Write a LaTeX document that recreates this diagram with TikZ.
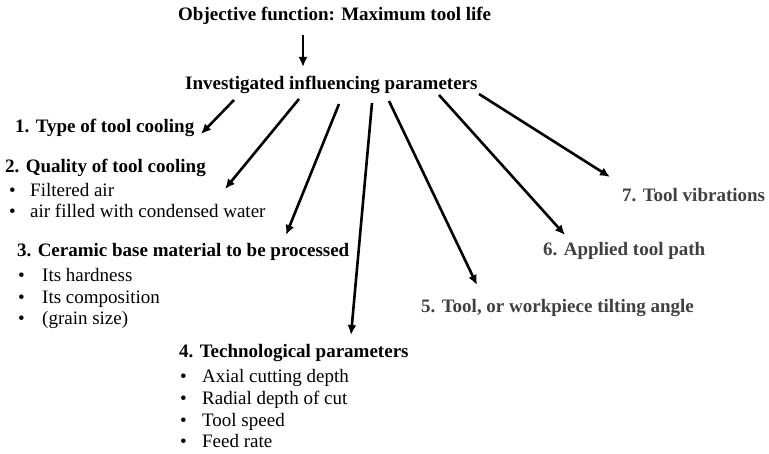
\documentclass[tikz,border=0pt]{standalone}
\usepackage{fontspec}
\setmainfont{Liberation Serif}
\usetikzlibrary{arrows.meta}
\definecolor{darkgrey}{RGB}{64,64,64}
\tikzset{
  head/.style={anchor=base west,inner sep=0pt,font=\bfseries},
  items/.style={anchor=base west,inner sep=0pt,align=left},
  arr/.style={line width=2.6pt,-{Latex[length=10pt,width=9pt]}},
}
\newcommand{\bul}[1]{\makebox[#1][l]{\textbullet}}
\begin{document}
\fontsize{19}{21.7}\selectfont
\begin{tikzpicture}[x=1pt,y=-1pt]
    \useasboundingbox (0,0) rectangle (769,454);
    % goal and parameters
    \node[head] (obj) at (178,21) {Objective function: Maximum tool life};
    \node[head] (inv) at (185,90) {Investigated influencing parameters};
    % the seven groups (lists sit on the baseline of their last line)
    \node[head] (h1) at (15,133) {1. Type of tool cooling};
    \node[head] (h2) at (5,173) {2. Quality of tool cooling};
    \node[items] (l2) at (9,218) {\bul{21pt}Filtered air\\ \bul{21pt}air filled with condensed water};
    \node[head] (h3) at (17,257) {3. Ceramic base material to be processed};
    \node[items] (l3) at (18,325) {\bul{24pt}Its hardness\\ \bul{24pt}Its composition\\ \bul{24pt}(grain size)};
    \node[head] (h4) at (179,358) {4. Technological parameters};
    \node[items] (l4) at (180,448) {\bul{22pt}Axial cutting depth\\ \bul{22pt}Radial depth of cut\\ \bul{22pt}Tool speed\\ \bul{22pt}Feed rate};
    \node[head,darkgrey] (h5) at (421,313) {5. Tool, or workpiece tilting angle};
    \node[head,darkgrey] (h6) at (543,256) {6. Applied tool path};
    \node[head,darkgrey] (h7) at (622,202) {7. Tool vibrations};
    % arrow ends
    \coordinate (s0) at (303,35);  \coordinate (e0) at (303,67);
    \coordinate (s1) at (234,100); \coordinate (e1) at (201,134);
    \coordinate (s2) at (299,99);  \coordinate (e2) at (225,189);
    \coordinate (s3) at (339,104); \coordinate (e3) at (286,235);
    \coordinate (s4) at (372,103); \coordinate (e4) at (351,335);
    \coordinate (s5) at (389,101); \coordinate (e5) at (477,285);
    \coordinate (s6) at (439,95);  \coordinate (e6) at (565,235);
    \coordinate (s7) at (479,94);  \coordinate (e7) at (610,177);
    \foreach \i in {0,...,7}
    \draw[arr] (s\i) -- (e\i);
\end{tikzpicture}
\end{document}
